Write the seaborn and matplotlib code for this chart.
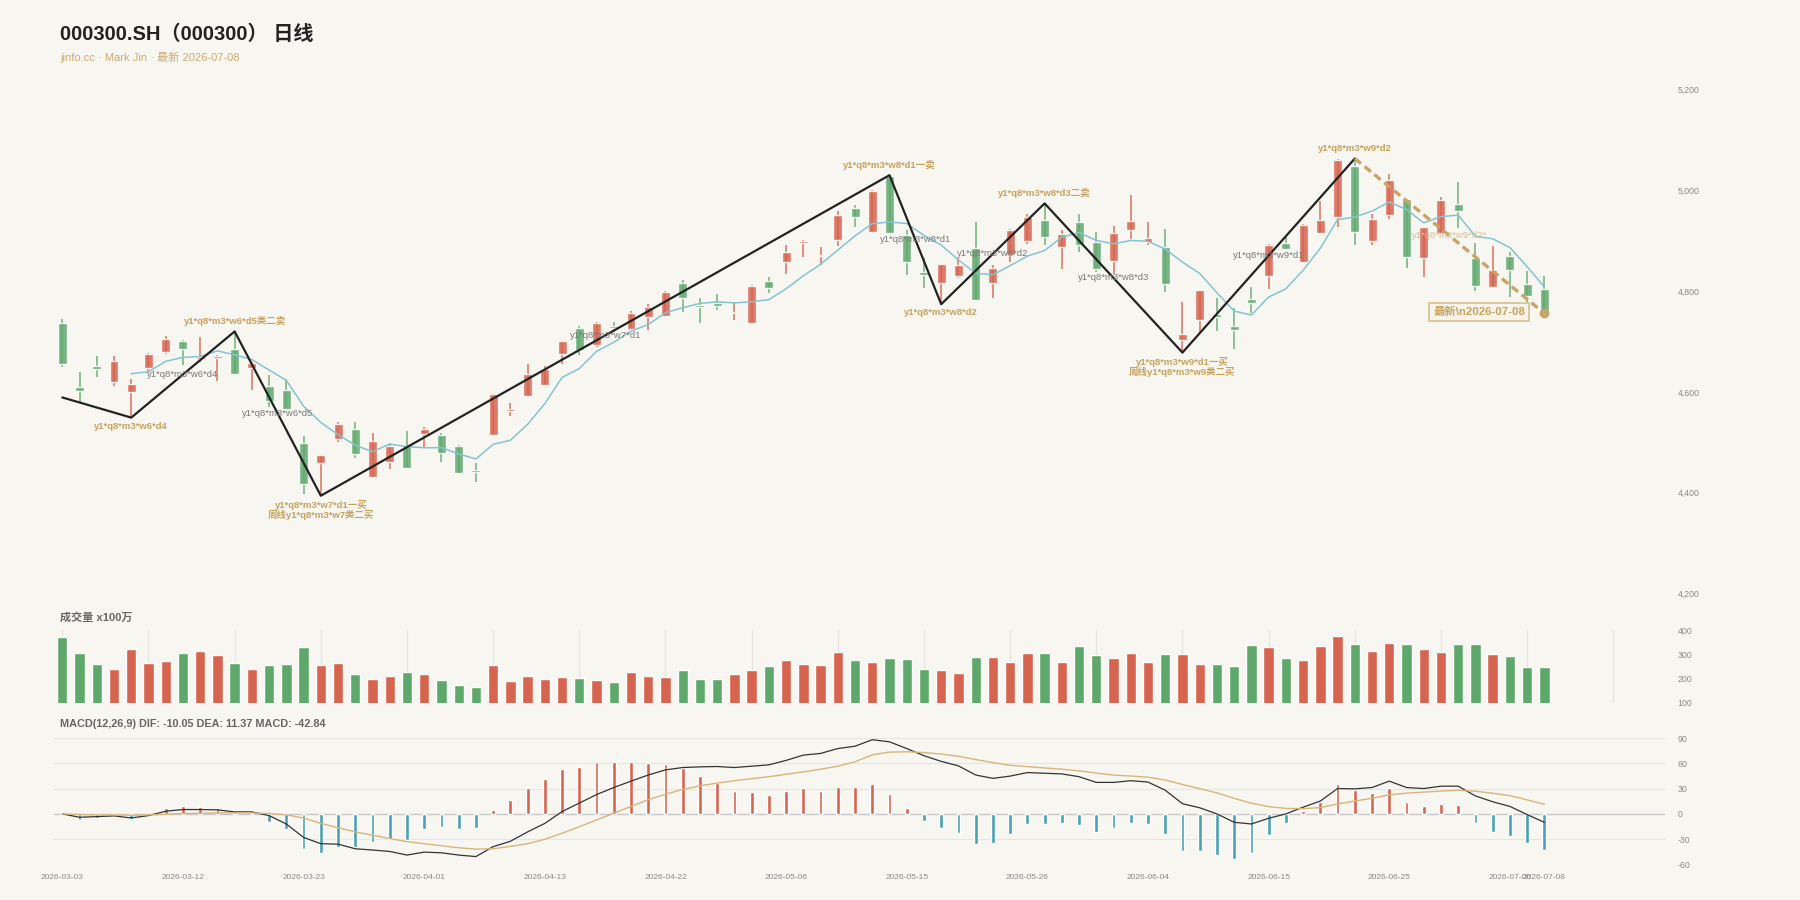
import numpy as np
import pandas as pd
import matplotlib.pyplot as plt
import seaborn as sns

# trading days 2026-03-03 .. 2026-07-08 (A-share holidays removed)
holidays = ['2026-04-06', '2026-05-01', '2026-05-04', '2026-05-05', '2026-06-19']
days = pd.bdate_range('2026-03-03', '2026-07-08')
days = days[~days.isin(pd.to_datetime(holidays))]
dates = [d.strftime('%Y-%m-%d') for d in days]

opens = [4737, 4609, 4651, 4620, 4599, 4647, 4680, 4701, 4665, 4668,
         4685, 4647, 4612, 4603, 4498, 4458, 4506, 4526, 4431, 4460,
         4493, 4517, 4515, 4493, 4446, 4515, 4562, 4592, 4614, 4675,
         4726, 4693, 4730, 4725, 4749, 4751, 4816, 4773, 4777, 4756,
         4736, 4821, 4857, 4895, 4870, 4901, 4964, 4918, 5028, 4911,
         4837, 4817, 4829, 4886, 4817, 4872, 4899, 4941, 4888, 4937,
         4897, 4860, 4921, 4897, 4887, 4703, 4743, 4754, 4730, 4784,
         4829, 4895, 4858, 4915, 4948, 5048, 4900, 4950, 4982, 4865,
         4915, 4973, 4866, 4809, 4870, 4814, 4804]
highs = [4744, 4639, 4671, 4671, 4625, 4678, 4711, 4703, 4708, 4673,
         4720, 4659, 4633, 4626, 4513, 4474, 4541, 4540, 4519, 4498,
         4523, 4531, 4518, 4495, 4458, 4595, 4577, 4655, 4652, 4701,
         4730, 4738, 4738, 4761, 4775, 4801, 4822, 4786, 4794, 4778,
         4812, 4827, 4892, 4901, 4887, 4959, 4971, 5001, 5030, 4921,
         4866, 4853, 4865, 4937, 4851, 4923, 4952, 4974, 4921, 4953,
         4918, 4929, 4991, 4938, 4923, 4779, 4802, 4786, 4766, 4809,
         4893, 4907, 4933, 4978, 5062, 5063, 4952, 5032, 4983, 4928,
         4987, 5017, 4895, 4890, 4878, 4839, 4830]
lows = [4650, 4577, 4630, 4612, 4549, 4642, 4675, 4654, 4660, 4622,
        4636, 4604, 4571, 4564, 4398, 4394, 4501, 4469, 4430, 4447,
        4449, 4491, 4460, 4439, 4421, 4513, 4553, 4589, 4613, 4655,
        4673, 4690, 4718, 4722, 4723, 4749, 4759, 4736, 4763, 4743,
        4736, 4797, 4834, 4867, 4852, 4890, 4927, 4918, 4915, 4832,
        4806, 4774, 4825, 4781, 4786, 4857, 4893, 4892, 4843, 4878,
        4837, 4834, 4903, 4892, 4799, 4678, 4716, 4720, 4685, 4757,
        4804, 4883, 4857, 4915, 4928, 4892, 4892, 4943, 4845, 4827,
        4915, 4925, 4800, 4808, 4789, 4773, 4756]
closes = [4655, 4602, 4646, 4661, 4616, 4675, 4705, 4686, 4669, 4672,
          4636, 4658, 4582, 4566, 4417, 4474, 4537, 4477, 4502, 4492,
          4449, 4526, 4478, 4440, 4441, 4595, 4566, 4636, 4646, 4701,
          4683, 4736, 4726, 4756, 4768, 4799, 4786, 4769, 4771, 4758,
          4810, 4807, 4877, 4900, 4872, 4951, 4948, 4999, 4915, 4858,
          4832, 4853, 4851, 4782, 4845, 4921, 4948, 4907, 4913, 4892,
          4843, 4915, 4939, 4905, 4815, 4714, 4802, 4748, 4722, 4777,
          4892, 4884, 4931, 4942, 5060, 4918, 4943, 5021, 4867, 4928,
          4980, 4958, 4811, 4842, 4841, 4791, 4756]
volumes = [371, 305, 262, 241, 324, 266, 272, 305, 313, 298,
           265, 239, 255, 259, 330, 257, 265, 217, 196, 211,
           228, 218, 193, 171, 164, 255, 189, 210, 200, 207,
           204, 195, 186, 225, 209, 207, 234, 196, 196, 219,
           234, 252, 276, 259, 254, 308, 276, 270, 284, 279,
           241, 234, 222, 288, 288, 268, 305, 305, 270, 334,
           297, 284, 306, 268, 303, 302, 261, 262, 250, 338,
           332, 284, 277, 336, 376, 345, 314, 347, 343, 324,
           309, 345, 345, 303, 295, 248, 247]

dif = [0, -4, -3.2, -2.4, -4.8, -2, 3.2, 5.2, 5.2, 4.8,
       2.4, 2.4, -2, -12, -28, -35.5, -36, -41.5, -43, -44.7,
       -49, -45.5, -46.3, -49, -50.8, -39, -32.6, -21.4, -11.3, 2.8,
       12.9, 23, 31.4, 39, 46.3, 52.4, 55.2, 56, 56.4, 55.2,
       56.8, 58.4, 63.7, 70, 72, 77.8, 80.6, 88.3, 85.8, 77.8,
       69.3, 62.5, 57.2, 46.3, 42.3, 45, 49.2, 48.4, 47.6, 44.3,
       37.5, 37.5, 39.5, 37.9, 28.2, 12.1, 7.3, 0, -10, -12,
       -5.2, 0, 8, 15.3, 30.2, 29.8, 31.4, 39, 31.4, 30.2,
       33, 33, 21.4, 14.5, 8.9, -0.8, -10.05]
dea = [0, -0.8, -1.2, -1.2, -1.6, -1.2, -0.4, 0.4, 0.8, 1.2,
       1.2, 1.2, 0.4, -1.2, -4.8, -11.3, -16.5, -21.4, -25.4, -29.4,
       -33, -35.5, -37.9, -40.3, -41.9, -41.5, -38.7, -35.5, -30.2, -23,
       -15.3, -7.3, 0.8, 8.9, 16.9, 23.4, 29, 33.4, 36.7, 39.5,
       41.9, 44.3, 47.2, 50, 53.2, 56.8, 62, 70.4, 73.5, 74,
       73, 71.2, 68.6, 64.7, 61, 57.9, 56.3, 54.7, 53.2, 51.2,
       48.6, 46.2, 45.1, 43.7, 40.3, 35, 30, 25, 18.5, 12.7,
       8.7, 6.5, 6.2, 7.6, 11.8, 15.3, 18.6, 22.7, 24.7, 25.9,
       27.2, 28.1, 27, 24.6, 21.7, 16.7, 11.37]
hist = [0, -6.9, -4.8, -2, -6, -1, 7.3, 9.7, 7.7, 6.9,
        2, 0, -9.3, -18, -41.5, -46, -39, -39.5, -34, -30,
        -30.6, -18.5, -16, -17.7, -17.3, 5.2, 16, 31, 41, 53,
        56, 62, 62, 62, 60, 59.6, 54.4, 45, 37, 27,
        25.8, 22, 27.4, 30.6, 27, 31.8, 32.2, 35.9, 24.2, 7.3,
        -8.9, -16.9, -23, -35.5, -34.3, -23.4, -12.5, -11.7, -10.5, -12.9,
        -21, -16.9, -11.3, -12, -24.2, -44.7, -44.3, -49, -53.6, -46.7,
        -25.4, -11.3, 3.2, 13.7, 35, 28.2, 24.6, 31.4, 13.7, 8.9,
        11.7, 10, -11.3, -21, -26.2, -34.7, -42.84]

# bi (stroke) pivots
bi_idx = [0, 4, 10, 15, 48, 51, 57, 65, 75]
bi_price = [4589, 4549, 4720, 4394, 5030, 4774, 4974, 4678, 5063]
last_idx = [75, 86]
last_price = [5063, 4756]

pivot_labels = [
    (4, 4549, 'y1*q8*m3*w6*d4', 'below'),
    (10, 4720, 'y1*q8*m3*w6*d5类二卖', 'above'),
    (15, 4394, 'y1*q8*m3*w7*d1一买\n周线y1*q8*m3*w7类二买', 'below'),
    (48, 5030, 'y1*q8*m3*w8*d1一卖', 'above'),
    (51, 4774, 'y1*q8*m3*w8*d2', 'below'),
    (57, 4974, 'y1*q8*m3*w8*d3二卖', 'above'),
    (65, 4678, 'y1*q8*m3*w9*d1一买\n周线y1*q8*m3*w9类二买', 'below'),
    (75, 5063, 'y1*q8*m3*w9*d2', 'above'),
]
seg_labels = ['y1*q8*m3*w6*d4', 'y1*q8*m3*w6*d5', 'y1*q8*m3*w7*d1',
              'y1*q8*m3*w8*d1', 'y1*q8*m3*w8*d2', 'y1*q8*m3*w8*d3',
              'y1*q8*m3*w9*d1']

df = pd.DataFrame({'date': dates, 'open': opens, 'high': highs, 'low': lows,
                   'close': closes, 'vol': volumes, 'dif': dif, 'dea': dea, 'hist': hist})
df['x'] = np.arange(len(df))
df['ma5'] = df['close'].rolling(5).mean()

BG = '#f7f6f1'
UP = '#d6644f'
DOWN = '#62a96f'
TAN = '#c9a25e'
GREY_TXT = '#8a8a8a'

sns.set_theme(style='white', rc={'axes.facecolor': BG, 'figure.facecolor': BG})
plt.rcParams['font.family'] = ['Liberation Sans', 'Noto Sans CJK SC', 'DejaVu Sans']
plt.rcParams['axes.unicode_minus'] = False

fig = plt.figure(figsize=(18, 9), dpi=100)
L, W = 53.7 / 1800, (1665 - 53.7) / 1800
ax = fig.add_axes([L, 1 - 593.5 / 900, W, 504 / 900])
axv = fig.add_axes([L, 1 - 702.6 / 900, W, 72.3 / 900])
axm = fig.add_axes([L, 1 - 864.3 / 900, W, 126 / 900])

up = df['close'] >= df['open']
colors = np.where(up, UP, DOWN)

for a in (ax, axv, axm):
    a.set_xlim(-0.5, 93)
    for s in a.spines.values():
        s.set_visible(False)
    a.yaxis.tick_right()
    a.tick_params(axis='y', length=0, pad=9, labelsize=6.3, labelcolor=GREY_TXT)
    a.tick_params(axis='x', length=0)

# ---- candles
ax.vlines(df['x'], df['low'], df['high'], colors=colors, lw=1.1, alpha=0.9, zorder=2)
body_lo = np.minimum(df['open'], df['close'])
body_h = np.maximum(np.abs(df['close'] - df['open']), 2)
ax.bar(df['x'], body_h, bottom=body_lo, width=0.52, color=colors, alpha=0.85, zorder=3)

sns.lineplot(x=df['x'], y=df['ma5'], ax=ax, color='#86c3d2', lw=1.1, zorder=4)
sns.lineplot(x=bi_idx, y=bi_price, ax=ax, color='#222222', lw=1.6, sort=False, zorder=5)
ax.plot(last_idx, last_price, color='#c9a466', lw=2.4, ls=(0, (2.4, 1.4)), zorder=5)
ax.plot([last_idx[-1]], [last_price[-1]], 'o', color='#c9a466', ms=6, zorder=6)

for xi, yi, txt, pos in pivot_labels:
    if pos == 'above':
        ax.annotate(txt, (xi, yi), xytext=(0, 4), textcoords='offset points', ha='center',
                    va='bottom', fontsize=6.8, color=TAN, fontweight='bold', linespacing=1.0)
    else:
        ax.annotate(txt, (xi, yi), xytext=(0, -3), textcoords='offset points', ha='center',
                    va='top', fontsize=6.8, color=TAN, fontweight='bold', linespacing=1.05)

for i, txt in enumerate(seg_labels):
    mx = (bi_idx[i + 1] + bi_idx[i + 2]) / 2
    my = (bi_price[i + 1] + bi_price[i + 2]) / 2
    ax.text(mx, my, txt, ha='center', va='center', fontsize=6.8, color='#7a7a7a', zorder=7)
ax.text((last_idx[0] + last_idx[1]) / 2, (last_price[0] + last_price[1]) / 2, 'y1*q8*m3*w9*d2*',
        ha='center', va='center', fontsize=6.8, color='#d8be92', zorder=7)

ax.annotate('最新\\n2026-07-08', (last_idx[-1], last_price[-1]), xytext=(-14, 1),
            textcoords='offset points', ha='right', va='center', fontsize=8.2, color=TAN,
            fontweight='bold', zorder=8,
            bbox=dict(boxstyle='square,pad=0.35', fc='#f8f4ea', ec='#dcc69e', lw=1.4))

ax.set_ylim(4200, 5200)
ax.set_yticks(np.arange(4200, 5201, 200))
ax.set_yticklabels([f'{v:,}' for v in range(4200, 5201, 200)])
ax.set_xticks([])
ax.set_xlabel('')
ax.set_ylabel('')

# ---- volume
for g in range(0, 91, 5):
    axv.axvline(g, color='#e6e3dd', lw=0.8, zorder=0)
axv.bar(df['x'], df['vol'], width=0.6, color=np.where(up, UP, '#5fa86b'), zorder=2)
axv.set_ylim(100, 400)
axv.set_yticks([100, 200, 300, 400])
axv.set_xticks([])

# ---- MACD
for g in range(-60, 91, 30):
    axm.axhline(g, color='#c8c8c8' if g == 0 else '#e7e5df', lw=1.0 if g == 0 else 0.8, zorder=0)
axm.bar(df['x'], df['hist'], width=0.22, color=np.where(df['hist'] >= 0, UP, '#4aa1b3'), zorder=2)
sns.lineplot(x=df['x'], y=df['dif'], ax=axm, color='#333333', lw=0.9, zorder=3)
sns.lineplot(x=df['x'], y=df['dea'], ax=axm, color='#d9b47c', lw=1.0, zorder=3)
axm.set_ylim(-60, 90)
axm.set_yticks(np.arange(-60, 91, 30))
tick_pos = list(range(0, len(df), 7)) + [len(df) - 1]
axm.set_xticks(tick_pos)
axm.set_xticklabels([dates[i] for i in tick_pos], fontsize=6, color=GREY_TXT)
axm.tick_params(axis='x', pad=7)
axm.set_xlabel('')
axm.set_ylabel('')

# ---- titles
fig.text(60 / 1800, 1 - 34 / 900, '000300.SH（000300） 日线', fontsize=14.5, fontweight='bold',
         color='#222222', va='center')
fig.text(60 / 1800, 1 - 57 / 900, 'jinfo.cc · Mark Jin · 最新 2026-07-08', fontsize=8,
         color='#cfab6f', va='center')
fig.text(60 / 1800, 1 - 617 / 900, '成交量 x100万', fontsize=8, fontweight='bold',
         color='#666666', va='center')
fig.text(60 / 1800, 1 - 724 / 900, 'MACD(12,26,9) DIF: -10.05 DEA: 11.37 MACD: -42.84',
         fontsize=7.8, fontweight='bold', color='#666666', va='center')

fig.savefig('out.png', dpi=100, facecolor=BG)
